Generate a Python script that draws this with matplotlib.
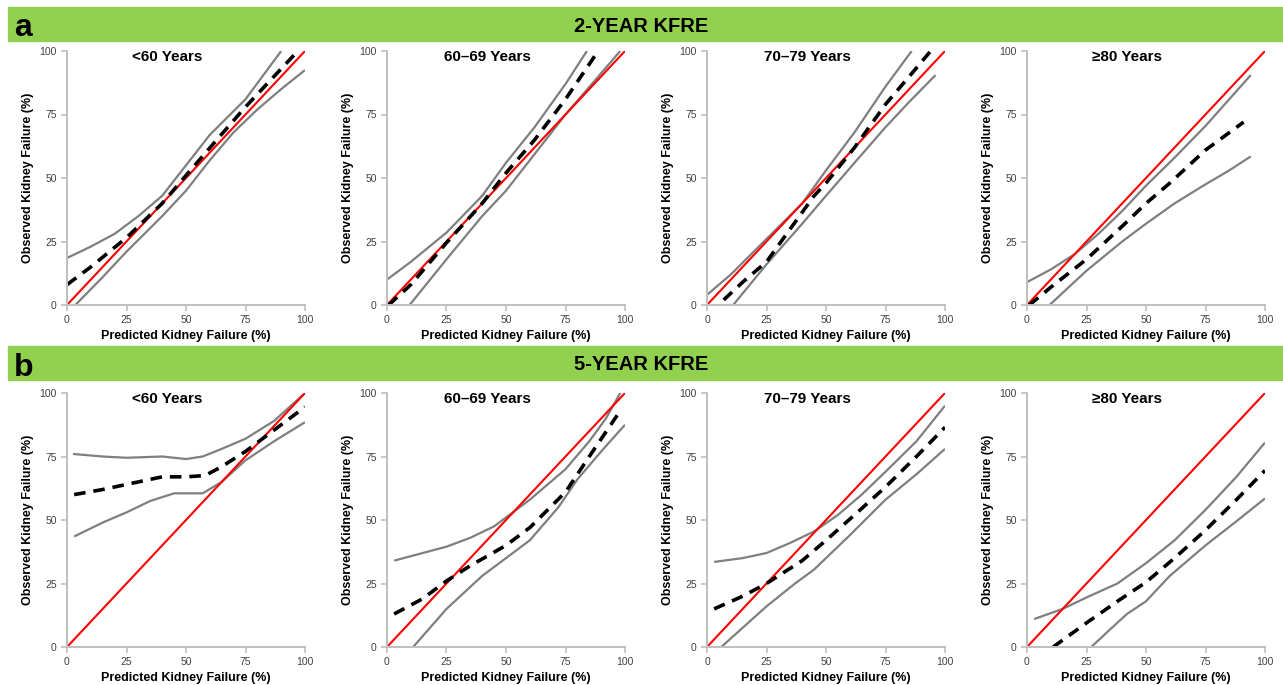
import numpy as np
import matplotlib.pyplot as plt

plt.rcParams['font.family'] = ['Liberation Sans', 'DejaVu Sans']

# panel titles and section headers
ages = ['<60 Years', '60\u201369 Years', '70\u201379 Years', '\u226580 Years']
sections = ['2-YEAR KFRE', '5-YEAR KFRE']
letters = ['a', 'b']
ticks = [0, 25, 50, 75, 100]

# 2-year KFRE, (predicted, observed) pairs
a_lt60_mid = [(0, 8), (10, 15), (25, 26.5), (40, 40), (50, 51), (62, 64), (75, 78), (90, 93), (97, 100)]
a_lt60_up = [(0, 18.5), (10, 23), (20, 28), (30, 35), (40, 43), (50, 55), (60, 67), (75, 81), (90, 100)]
a_lt60_lo = [(3.5, 0), (15, 11), (25, 21), (40, 35), (50, 45), (60, 57), (70, 68), (80, 77), (90, 85), (100, 92.5)]

a_60s_mid = [(0.7, 0), (10, 8), (25, 24.5), (40, 40), (50, 52), (62, 65), (75, 81), (88, 99)]
a_60s_up = [(0, 10), (10, 17), (25, 28.5), (40, 43), (50, 56), (62, 70), (75, 87), (84, 100)]
a_60s_lo = [(9.5, 0), (25, 18), (40, 35), (50, 45), (60, 57), (65, 63), (75, 75), (87, 88), (98, 100)]

a_70s_mid = [(7, 2), (15, 9), (25, 17), (35, 30), (45, 43), (50, 48), (62, 62), (75, 79), (85, 90), (94, 100)]
a_70s_up = [(0, 4), (10, 12), (25, 26), (40, 40), (50, 53), (62, 68), (75, 86), (86, 100)]
a_70s_lo = [(11, 0), (25, 16), (40, 32), (50, 43), (62, 56), (75, 70), (85, 80), (96, 90.5)]

a_80p_mid = [(1, 0), (10, 7), (25, 18), (40, 31), (50, 40), (60, 48), (75, 61), (91, 72)]
a_80p_up = [(0, 9), (10, 14), (20, 20), (30, 28), (40, 37), (50, 47), (62, 58), (75, 70.5), (94, 90.5)]
a_80p_lo = [(9.5, 0), (25, 13.5), (40, 25), (50, 32), (62, 40), (75, 47.5), (85, 53), (94, 58.5)]

# 5-year KFRE
b_lt60_mid = [(3, 60), (15, 62), (25, 64), (40, 67), (50, 67), (58, 67.5), (65, 71), (75, 77), (85, 84), (100, 94.5)]
b_lt60_up = [(2.5, 76), (15, 75), (25, 74.5), (40, 75), (50, 74), (57, 75), (65, 78), (75, 82), (87, 89), (100, 100)]
b_lt60_lo = [(3, 43.5), (15, 49), (25, 53), (35, 57.5), (45, 60.5), (57, 60.5), (65, 65), (75, 73.5), (87, 81), (100, 88.5)]

b_60s_mid = [(3, 13), (15, 19), (25, 26), (35, 32), (50, 40), (60, 47), (75, 61), (85, 75), (98, 93)]
b_60s_up = [(3, 34), (15, 37), (25, 39.5), (35, 43), (45, 47.5), (50, 51), (60, 58), (75, 70), (85, 81), (92, 90), (98, 100)]
b_60s_lo = [(11, 0), (25, 15), (40, 28), (50, 35), (60, 42), (72, 55), (80, 66), (90, 77), (100, 87.5)]

b_70s_mid = [(3, 15), (15, 20), (25, 25), (40, 34), (50, 42), (62, 52), (75, 63), (88, 75), (100, 86.5)]
b_70s_up = [(3, 33.5), (15, 35), (25, 37), (35, 41), (45, 45.5), (55, 52), (65, 60), (75, 69), (88, 81), (100, 95)]
b_70s_lo = [(6, 0), (25, 16), (37, 25), (45, 30.5), (60, 44), (75, 58), (88, 68), (100, 78)]

b_80p_mid = [(11, 0), (25, 9.5), (38, 18), (50, 25.5), (62, 35), (75, 46), (88, 58), (100, 69.5)]
b_80p_up = [(3, 11), (15, 15), (25, 19.5), (38, 25), (50, 33), (62, 42), (75, 54), (88, 67), (100, 80.5)]
b_80p_lo = [(27, 0), (35, 7), (42, 13), (50, 18), (60, 28), (75, 40), (88, 49.5), (100, 58.5)]

rows = [
    [(a_lt60_mid, a_lt60_up, a_lt60_lo), (a_60s_mid, a_60s_up, a_60s_lo),
     (a_70s_mid, a_70s_up, a_70s_lo), (a_80p_mid, a_80p_up, a_80p_lo)],
    [(b_lt60_mid, b_lt60_up, b_lt60_lo), (b_60s_mid, b_60s_up, b_60s_lo),
     (b_70s_mid, b_70s_up, b_70s_lo), (b_80p_mid, b_80p_up, b_80p_lo)],
]

W, H = 1283, 685
fig = plt.figure(figsize=(W / 100, H / 100), dpi=100)

green = '#92d050'
banner_top = [7, 346]
axes_top = [51, 393]
axes_left = [67, 387, 707, 1027]
aw, ah = 238, 254

for r in range(2):
    # green section banner
    y0 = banner_top[r]
    fig.patches.append(plt.Rectangle((8 / W, 1 - (y0 + 34) / H), 1 - 8 / W, 34 / H,
                                     transform=fig.transFigure, color=green, zorder=0))
    fig.text(14 / W, 1 - (y0 + 18) / H, letters[r], fontsize=23, fontweight='bold',
             va='center_baseline', ha='left')
    fig.text(0.5, 1 - (y0 + 17) / H, sections[r], fontsize=14.5, fontweight='bold',
             va='center_baseline', ha='center')

    for c in range(4):
        ax = fig.add_axes([axes_left[c] / W, 1 - (axes_top[r] + ah) / H, aw / W, ah / H])
        mid, up, lo = rows[r][c]
        for ci in (up, lo):
            xs, ys = zip(*ci)
            ax.plot(xs, ys, color='#7f7f7f', lw=1.6, solid_capstyle='butt')
        ax.plot([0, 100], [0, 100], color='#ff0000', lw=1.5)
        xs, ys = zip(*mid)
        ax.plot(xs, ys, color='black', lw=2.6, dashes=(3.2, 2.2))

        ax.set_xlim(0, 100)
        ax.set_ylim(0, 100)
        ax.set_xticks(ticks)
        ax.set_yticks(ticks)
        for s in ('top', 'right'):
            ax.spines[s].set_visible(False)
        for s in ('left', 'bottom'):
            ax.spines[s].set_color('#bfbfbf')
            ax.spines[s].set_linewidth(1.4)
        ax.tick_params(direction='out', length=4, width=1.2, color='#bfbfbf',
                       labelsize=7.5, labelcolor='#404040', pad=3.5)
        ax.set_xlabel('Predicted Kidney Failure (%)', fontsize=9, fontweight='bold', labelpad=3)
        ax.set_ylabel('Observed Kidney Failure (%)', fontsize=9, fontweight='bold', labelpad=4)
        ax.text(0.42, 0.975, ages[c], transform=ax.transAxes, fontsize=11,
                fontweight='bold', ha='center', va='center')

fig.savefig('out.png', dpi=100)
